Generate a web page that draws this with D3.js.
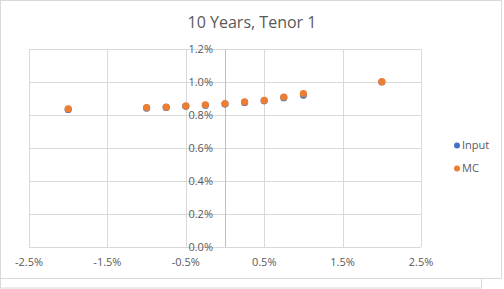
<!DOCTYPE html>
<html>
<head>
<meta charset="utf-8">
<script src="https://cdn.jsdelivr.net/npm/d3@7"></script>
<style>
  body { margin: 0; background: #fff; }
  svg { display: block; font-family: "Open Sans", "Liberation Sans", sans-serif; }
</style>
</head>
<body>
<svg id="chart" width="504" height="289"></svg>
<script>
// shift (x) and rate (y), both as fractions
const shifts = [-0.02, -0.01, -0.0075, -0.005, -0.0025, 0, 0.0025, 0.005, 0.0075, 0.01, 0.02];
const inputVals = [0.00834, 0.00842, 0.00846, 0.00853, 0.00859, 0.00866, 0.00876, 0.00886, 0.00905, 0.00921, 0.01000];
const mcVals = [0.00837, 0.00845, 0.00848, 0.00855, 0.00862, 0.00869, 0.00879, 0.00889, 0.00909, 0.00929, 0.01002];
const xTicks = [-0.025, -0.015, -0.005, 0.005, 0.015, 0.025];
const yTicks = [0, 0.002, 0.004, 0.006, 0.008, 0.010, 0.012];
const seriesNames = ['Input', 'MC'];
const seriesColors = ['#4472C4', '#ED7D31'];

const svg = d3.select('#chart');

// outer chart frames (the second one peeks out below, as in the screenshot)
svg.append('rect').attr('x', 0.5).attr('y', 278.5).attr('width', 481).attr('height', 9.5)
  .attr('fill', '#fff').attr('stroke', '#D9D9D9');
svg.append('rect').attr('x', 0.5).attr('y', 0.5).attr('width', 501).attr('height', 278)
  .attr('fill', '#fff').attr('stroke', '#D9D9D9');

const x = d3.scaleLinear().domain([-0.025, 0.025]).range([29, 421]);
const y = d3.scaleLinear().domain([0, 0.012]).range([247, 49]);
// plain hyphen for negatives, like Excel
const pct = d3.formatLocale({decimal: '.', thousands: ',', grouping: [3], currency: ['', ''], minus: '-'}).format('.1%');

// gridlines
svg.append('g').selectAll('line').data(yTicks).join('line')
  .attr('x1', x(-0.025)).attr('x2', x(0.025))
  .attr('y1', d => Math.round(y(d)) + 0.5).attr('y2', d => Math.round(y(d)) + 0.5)
  .attr('stroke', '#D9D9D9');
svg.append('g').selectAll('line').data(xTicks).join('line')
  .attr('x1', d => Math.round(x(d)) + 0.5).attr('x2', d => Math.round(x(d)) + 0.5)
  .attr('y1', y(0.012)).attr('y2', y(0))
  .attr('stroke', '#D9D9D9');

// value axis sits at x = 0
svg.append('line')
  .attr('x1', Math.round(x(0)) + 0.5).attr('x2', Math.round(x(0)) + 0.5)
  .attr('y1', y(0.012)).attr('y2', y(0))
  .attr('stroke', '#BFBFBF');

// y tick labels, left of the zero axis
svg.append('g').selectAll('text').data(yTicks).join('text')
  .attr('x', x(0) - 12).attr('y', d => y(d) + 1)
  .attr('text-anchor', 'end').attr('dominant-baseline', 'middle')
  .attr('font-size', 11).attr('fill', '#595959')
  .text(pct);

// x tick labels
svg.append('g').selectAll('text').data(xTicks).join('text')
  .attr('x', d => x(d)).attr('y', 263)
  .attr('text-anchor', 'middle').attr('dominant-baseline', 'middle')
  .attr('font-size', 11).attr('fill', '#595959')
  .text(pct);

// title
svg.append('text')
  .attr('x', 252).attr('y', 28)
  .attr('text-anchor', 'middle')
  .attr('font-size', 16).attr('fill', '#595959')
  .text('10 Years, Tenor 1');

// points: Input first, MC drawn on top
const series = [inputVals, mcVals];
series.forEach((vals, i) => {
  svg.append('g').selectAll('circle').data(shifts).join('circle')
    .attr('cx', d => x(d))
    .attr('cy', (d, j) => y(vals[j]))
    .attr('r', 3.6)
    .attr('fill', seriesColors[i]);
});

// legend
const legend = svg.append('g').selectAll('g').data(seriesNames).join('g')
  .attr('transform', (d, i) => `translate(457,${145.5 + i * 23})`);
legend.append('circle').attr('r', 3).attr('fill', (d, i) => seriesColors[i]);
legend.append('text')
  .attr('x', 5).attr('y', 0.5).attr('dominant-baseline', 'middle')
  .attr('font-size', 11).attr('fill', '#595959')
  .text(d => d);
</script>
</body>
</html>
